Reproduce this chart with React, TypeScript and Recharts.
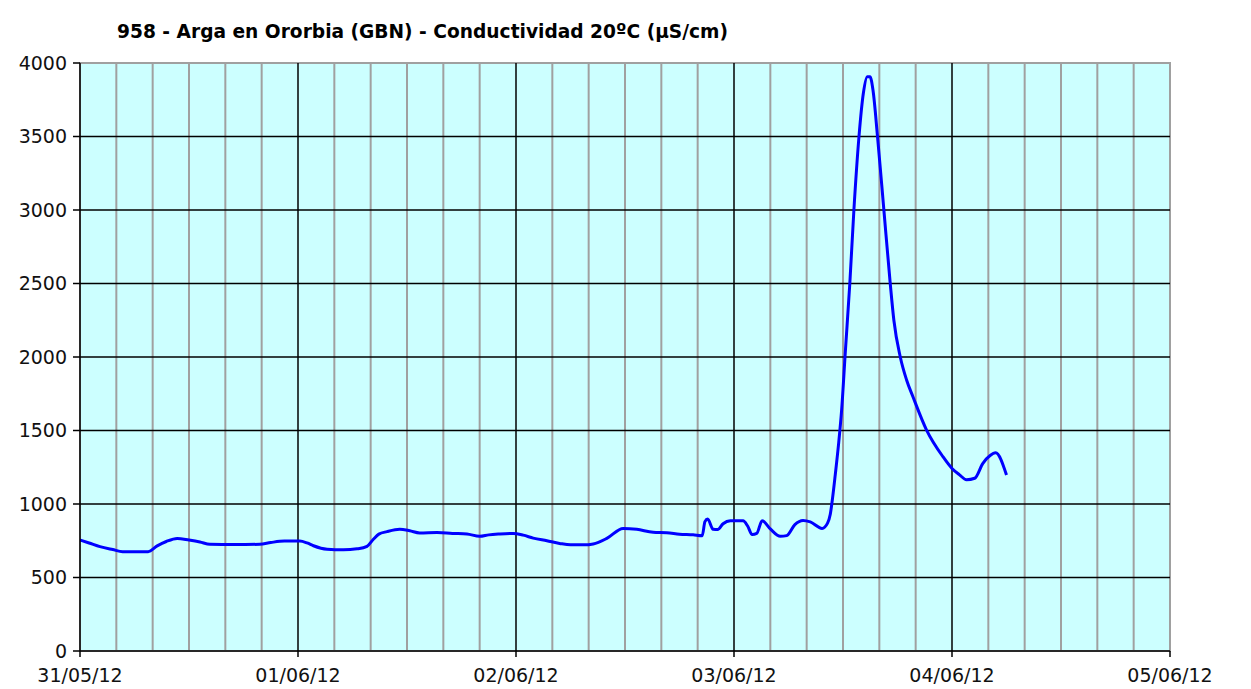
import React from "react";
import {
  LineChart,
  Line,
  XAxis,
  YAxis,
  CartesianGrid,
  ReferenceLine,
  ReferenceArea,
} from "recharts";

// hours since 31/05/12 00:00
const hours = [
  0, 1, 2.2, 3.6, 4.7, 6, 7.5, 8.5, 9.5, 10.7, 12, 13.2, 14.3, 17, 19.8, 21, 22.5, 24.2, 25, 25.7,
  27.2, 29, 30.5, 31.6, 32.3, 32.9, 33.8, 35.2, 36.3, 37.4, 39.3, 41, 42.6, 44.0, 45, 46.2, 47.7,
  48.8, 49.9, 51.4, 52.8, 54, 55.5, 56.5, 58.0, 59.8, 61.3, 63.1, 64.6, 66, 67.5, 68.5, 68.8, 69.1,
  69.7, 70.2, 70.8, 71.6, 73.0, 73.5, 74.0, 74.5, 75.1, 76, 77.1, 77.8, 78.7, 79.6, 80.4, 81.7,
  82.3, 82.6, 82.85, 83.15, 83.5, 83.85, 84.25, 84.75, 85.2, 85.76, 86.24, 86.68, 86.97, 87.3,
  87.8, 88.5, 89.2, 89.6, 90.3, 91.0, 91.7, 93.2, 95.0, 96.0, 96.8, 97.6, 98.5,
  99.4, 100.2, 100.8, 102.0,
];

const conductivity = [
  755, 735, 710, 690, 676, 675, 676, 715, 745, 766, 755, 742, 726, 724, 726, 738, 748, 748, 735, 716,
  692, 688, 695, 712, 760, 795, 812, 828, 818, 803, 806, 800, 796, 780, 790, 796, 800,
  788, 768, 750, 732, 722, 722, 728, 766, 834, 828, 808, 805, 795, 790, 784, 880, 898,
  828, 826, 866, 886, 886, 850, 792, 800, 886, 830, 780, 785, 860, 888, 878, 834,
  870, 930, 1040, 1200, 1400, 1640, 2030, 2500, 3000, 3500, 3794, 3907, 3907, 3816,
  3500, 3000, 2500, 2250, 2002, 1844, 1730, 1503, 1322, 1242, 1200, 1165, 1175,
  1277, 1330, 1348, 1197,
];

const dayTicks = [0, 24, 48, 72, 96, 120];
const dayLabels = ["31/05/12", "01/06/12", "02/06/12", "03/06/12", "04/06/12", "05/06/12"];
const innerDays = [24, 48, 72, 96];
const minorHours = [
  4, 8, 12, 16, 20, 28, 32, 36, 40, 44, 52, 56, 60, 64, 68, 76, 80, 84, 88, 92, 100, 104, 108, 112, 116,
];
const yTicks = [0, 500, 1000, 1500, 2000, 2500, 3000, 3500, 4000];
const yGrid = [500, 1000, 1500, 2000, 2500, 3000, 3500];

const title = "958 - Arga en Ororbia (GBN) - Conductividad 20ºC (µS/cm)";

const data = hours.map((h, i) => ({ h, v: conductivity[i] }));

const FONT = "'DejaVu Sans', Verdana, sans-serif";

export default function App() {
  return (
    <div style={{ position: "absolute", left: 0, top: 0, width: 1251, height: 689, background: "#fff" }}>
      <svg width={1251} height={60} style={{ position: "absolute", left: 0, top: 0 }}>
        <text
          x={117}
          y={38}
          fontFamily={FONT}
          fontWeight="bold"
          fontSize={20}
          fill="#000"
          textLength={611}
          lengthAdjust="spacingAndGlyphs"
        >
          {title}
        </text>
      </svg>
      <div style={{ position: "absolute", left: 0, top: 0 }}>
        <LineChart
          width={1251}
          height={689}
          data={data}
          margin={{ top: 63, right: 81, left: 0, bottom: 0 }}
        >
          <CartesianGrid fill="#CCFFFF" stroke="none" horizontal={false} vertical={false} />
          {minorHours.map((m) => (
            <ReferenceLine key={"m" + m} x={m} stroke="#a0a0a0" strokeWidth={2} />
          ))}
          {yGrid.map((g) => (
            <ReferenceLine key={"y" + g} y={g} stroke="#000" strokeWidth={1.5} />
          ))}
          {innerDays.map((d) => (
            <ReferenceLine key={"d" + d} x={d} stroke="#000" strokeWidth={1.5} />
          ))}
          <ReferenceArea x1={0} x2={120} y1={0} y2={4000} fill="none" stroke="#a0a0a0" strokeWidth={2} />
          <XAxis
            dataKey="h"
            type="number"
            domain={[0, 120]}
            ticks={dayTicks}
            interval={0}
            tickFormatter={(v: number) => dayLabels[dayTicks.indexOf(v)]}
            height={38}
            stroke="#000"
            strokeWidth={1.5}
            tickSize={6}
            tickMargin={12}
            tick={{ fill: "#111", fontSize: 19, fontFamily: FONT }}
            allowDataOverflow
          />
          <YAxis
            type="number"
            domain={[0, 4000]}
            ticks={yTicks}
            interval={0}
            width={80}
            stroke="#000"
            strokeWidth={1.5}
            tickSize={7}
            tickMargin={6}
            tick={{ fill: "#111", fontSize: 19, fontFamily: FONT }}
          />
          <Line
            type="monotone"
            dataKey="v"
            stroke="#0000FF"
            strokeWidth={3}
            dot={false}
            isAnimationActive={false}
          />
        </LineChart>
      </div>
    </div>
  );
}
